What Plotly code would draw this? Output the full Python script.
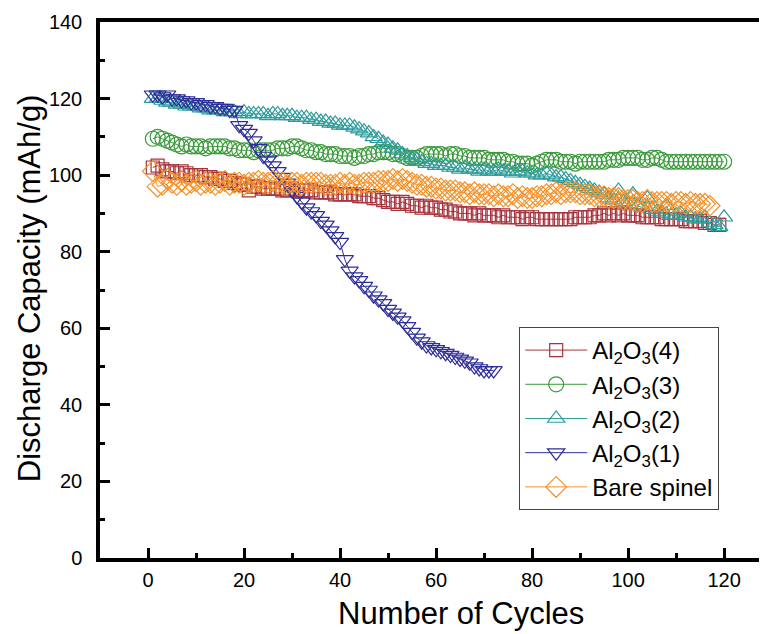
import plotly.graph_objects as go

cycles_120 = list(range(1, 121))

al4 = [102,102.5,101.5,101,101,
       100.5,101,100.5,100,100,100,99.5,
       99.5,99,99,98.5,98.5,98,97.5,97.5,
       96,97,97,96.5,96.5,96.5,96.5,96,96,96.5,
       96,96,96,96,95.5,95.5,95.5,95.5,95,95,
       95,95,95,94.5,94.5,94.5,94,94,93.5,
       93,93,92.5,93,92.5,92,92,91.5,
       92,91.5,91.5,91,91,90.5,90.5,90,90,
       90,89.5,90,89.5,89.5,89.5,89,89.5,89,89,89,88.5,89,
       89,88.5,88.5,88.5,88.5,88.5,88.5,88.5,88.5,89,89,89,
       89,89.5,89.5,90,89.5,90,89.5,90,89.5,89.5,89.5,
       89,89,89,89,88.5,88.5,88.5,88.5,88.5,88,88,88,88,87.5,87.5,87,87]

al3 = [109.5,110,109.5,109,108.5,
       108,107.5,108,107.5,107.5,107.5,107,107.5,107.5,107.5,107.5,107,
       107,106.5,106.5,106.5,106,106.5,106.5,106.5,106.5,107,
       107,107,107.5,107.5,107,106.5,106.5,106,106,105.5,
       105.5,105.5,105,105,105,104.5,105,105,105.5,
       105.5,106,106,106,105.5,105.5,105,104.5,104.5,
       104.5,105,105.5,105.5,105.5,105.5,105,105.5,105.5,105,
       105,104.5,104.5,104.5,104.5,104,104,104,104,103.5,103.5,103,103,103,
       102.5,103,103.5,104,104,104,103.5,103.5,103.5,103,103.5,
       103.5,103.5,103.5,103.5,103.5,104,104,104,104.5,104.5,
       104.5,104.5,104,104,104.5,104.5,104,103.5,103.5,103.5,
       103.5,103.5,103.5,103.5,103.5,103.5,103.5,103.5,103.5,103.5]

al2 = [120,120,119.5,119,119,118.5,118.5,118,118,118,117.5,117.5,117,117,117,116.5,116.5,116.5,
       116,116.5,116,116,116,116,115.5,116,116,115.5,115.5,115.5,115,115,115,114.5,114.5,
       114,114,113.5,113.5,113,113,113,112.5,
       112,111.5,111,110,109.5,
       108.5,108,107,106.5,105.5,105,
       104.5,104,103.5,103,103,102.5,102.5,102.5,102,
       102,101.5,102,101.5,101.5,101,101.5,101,101,101.5,101,101,100.5,101,101,100.5,
       100.5,100,100,100.5,100,99.5,99.5,99,98.5,
       98,97.5,97,96.5,96,95.5,95,
       94,93.5,96,93,92.5,95,92,91.5,94,91,90.5,90,92,89.5,89.5,90,89,89,88.5,88.5,89,87.5,87,86.5,89]

cycles_72 = list(range(1, 73))
al1 = [121,121,120.5,121,120,120,119.5,119.5,119,119,118.5,118.5,118,118,117.5,117.5,117,117,
       113,112,111,109,107,105,104,102.5,101,99.5,98,96,94.5,93,91.5,90.5,89.5,88,87,85.5,84,82.5,
       78,75,73.5,72.5,71,70,68.5,67.5,66.5,65,64,63,62,60.5,59,57.5,56.5,55.5,55,54.5,
       54,53.5,53,52.5,52,51.5,51,50,49.5,49,49,49]

cycles_117 = list(range(1, 118))
bare = [101,97,97.5,99,98,97.5,98.5,97.5,98,98.5,97.5,98,
        98,97.5,98,98.5,97.5,98,98,97.5,
        98,98,98.5,98,98,98.5,98,98,97.5,98,98,97.5,98,98,98,
        98,97.5,97.5,97.5,98,97.5,98,97.5,97.5,98,98,98,98.5,98.5,98.5,
        99,98.5,99,98.5,98,97.5,97.5,
        97,97,96.5,96.5,96,96,96,95.5,
        95.5,95,95.5,95,95,95,94.5,95,94.5,94.5,95,94,94.5,94,94,
        94.5,94.5,95,95,95.5,95,95.5,95.5,95.5,95,95,95,94.5,94.5,94.5,94,94,94,
        93.5,93.5,93.5,93,93,93.5,93,93,93,93,92.5,93,93,92.5,93,92.5,92.5,92.5,92]

x_ticks = [0, 20, 40, 60, 80, 100, 120]
y_ticks = [0, 20, 40, 60, 80, 100, 120, 140]
x_title = "Number of Cycles"
y_title = "Discharge Capacity (mAh/g)"

series = [
    ("Al<sub>2</sub>O<sub>3</sub>(4)", cycles_120, al4, "#a8323c", "square-open", 13),
    ("Al<sub>2</sub>O<sub>3</sub>(3)", cycles_120, al3, "#3a9a3a", "circle-open", 15),
    ("Al<sub>2</sub>O<sub>3</sub>(2)", cycles_120, al2, "#2f9c9c", "triangle-up-open", 15),
    ("Al<sub>2</sub>O<sub>3</sub>(1)", cycles_72, al1, "#2e2e9a", "triangle-down-open", 15),
    ("Bare spinel", cycles_117, bare, "#f5922a", "diamond-open", 16),
]

fig = go.Figure()
for name, xs, ys, col, sym, sz in series:
    fig.add_trace(go.Scatter(
        x=xs, y=ys, name=name, mode="lines+markers",
        line=dict(color=col, width=1),
        marker=dict(symbol=sym, size=sz, color=col, line=dict(color=col, width=1.2)),
    ))

font_family = "Liberation Sans, Arial, sans-serif"
fig.update_layout(
    width=767, height=634,
    margin=dict(l=92, r=0, t=14, b=84),
    paper_bgcolor="white", plot_bgcolor="white",
    font=dict(family=font_family, color="black"),
    showlegend=True,
    legend=dict(
        x=0.621, y=0.431, xanchor="left", yanchor="top",
        bordercolor="#444", borderwidth=1, bgcolor="white",
        font=dict(size=24, family=font_family, color="black"),
        itemwidth=62, tracegroupgap=0,
    ),
    xaxis=dict(
        range=[-10, 130.6], tickmode="array", tickvals=x_ticks,
        ticks="inside", ticklen=10, tickwidth=3, tickcolor="black",
        minor=dict(ticks="inside", ticklen=5, tickwidth=3, tickcolor="black", dtick=10, tick0=0),
        showline=True, linewidth=3.5, linecolor="black", mirror=True,
        showgrid=False, zeroline=False,
        tickfont=dict(size=20), ticklabelstandoff=1,
    ),
    yaxis=dict(
        range=[0, 140], tickmode="array", tickvals=y_ticks,
        ticks="inside", ticklen=10, tickwidth=3, tickcolor="black",
        minor=dict(ticks="inside", ticklen=5, tickwidth=3, tickcolor="black", dtick=10, tick0=0),
        showline=True, linewidth=3.5, linecolor="black", mirror=False,
        showgrid=False, zeroline=False,
        tickfont=dict(size=20), ticklabelstandoff=10,
    ),
    annotations=[
        dict(text=x_title, xref="paper", yref="paper", x=0.535, y=-0.104,
             xanchor="center", yanchor="middle", showarrow=False, borderpad=0,
             font=dict(size=31, family=font_family, color="black")),
        dict(text=y_title, xref="paper", yref="paper", x=-0.104, y=0.503,
             xanchor="center", yanchor="middle", showarrow=False, textangle=-90, borderpad=0,
             font=dict(size=31, family=font_family, color="black")),
    ],
)

fig.write_html("out.html")
